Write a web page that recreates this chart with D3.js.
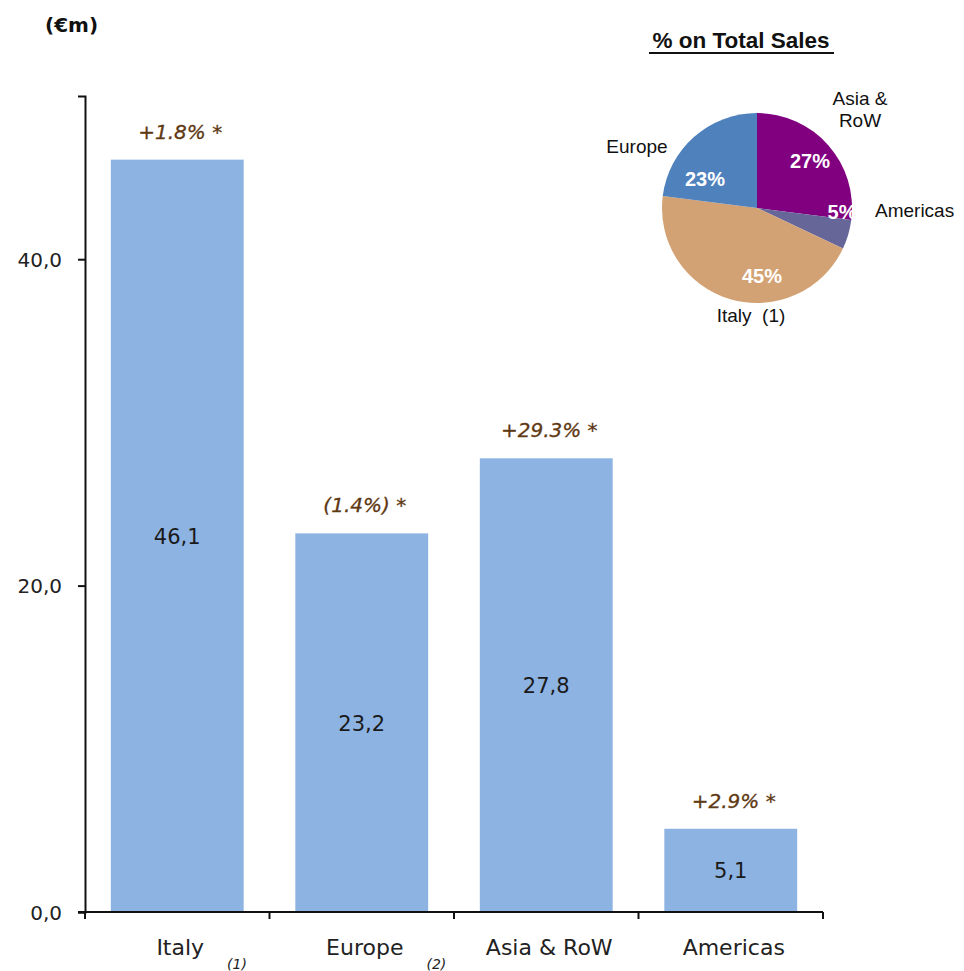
<!DOCTYPE html>
<html>
<head>
<meta charset="utf-8">
<script src="https://cdn.jsdelivr.net/npm/d3@7"></script>
<style>
  html, body { margin: 0; padding: 0; background: #fff; }
  svg { display: block; }
</style>
</head>
<body>
<svg id="chart" width="964" height="971"></svg>
<script>
// Sales by region (€m)
const regions = ["Italy", "Europe", "Asia & RoW", "Americas"];
const sales = [46.1, 23.2, 27.8, 5.1];
const growth = ["+1.8% *", "(1.4%) *", "+29.3% *", "+2.9% *"];
const footnotes = ["(1)", "(2)", "", ""];
const yTicks = [0, 20, 40];

// Share of total sales (pie), clockwise from 12 o'clock
const pieRegions = ["Asia & RoW", "Americas", "Italy", "Europe"];
const pieShares = [27, 5, 45, 23];
const pieNames = [["Asia &", "RoW"], ["Americas"], ["Italy  (1)"], ["Europe"]];
const pieColors = ["#800080", "#666699", "#d3a274", "#4f81bd"];

const svg = d3.select("#chart");
const itFmt = d3.formatLocale({ decimal: ",", thousands: ".", grouping: [3], currency: ["€", ""] });
const fmt1 = itFmt.format(".1f");

const x = d3.scaleBand().domain(regions).range([85, 823]).paddingInner(0.28).paddingOuter(0.14);
const y = d3.scaleLinear().domain([0, 50]).range([912, 96]);

const FONT = "'DejaVu Sans', sans-serif";
const PFONT = "'Liberation Sans', Arial, sans-serif";

// unit label
svg.append("text").attr("x", 45).attr("y", 32)
  .attr("font-family", FONT).attr("font-weight", "bold").attr("font-size", 20)
  .attr("fill", "#111").text("(€m)");

// bars
svg.append("g").selectAll("rect").data(sales).join("rect")
  .attr("x", (d, i) => x(regions[i]))
  .attr("width", x.bandwidth())
  .attr("y", d => y(d))
  .attr("height", d => y(0) - y(d))
  .attr("fill", "#8db3e2");

// value labels inside bars
svg.append("g").selectAll("text").data(sales).join("text")
  .attr("x", (d, i) => x(regions[i]) + x.bandwidth() / 2)
  .attr("y", d => (y(d) + y(0)) / 2 + 8)
  .attr("text-anchor", "middle")
  .attr("font-family", FONT).attr("font-size", 21).attr("fill", "#1a1a1a")
  .text(d => fmt1(d));

// growth annotations above bars
svg.append("g").selectAll("text").data(sales).join("text")
  .attr("x", (d, i) => x(regions[i]) + x.bandwidth() / 2 + 3)
  .attr("y", d => y(d) - 21)
  .attr("text-anchor", "middle")
  .attr("font-family", FONT).attr("font-style", "italic").attr("font-size", 20)
  .attr("fill", "#5e3812").attr("stroke", "#5e3812").attr("stroke-width", 0.3)
  .text((d, i) => growth[i]);

// y axis
const yAxis = d3.axisLeft(y).tickValues(yTicks).tickSize(7).tickFormat(fmt1);
const gy = svg.append("g").attr("transform", "translate(85,0)").call(yAxis);
gy.select(".domain").attr("stroke", "#111").attr("stroke-width", 2);
gy.selectAll(".tick line").attr("stroke", "#111").attr("stroke-width", 2);
gy.selectAll(".tick text").attr("font-family", FONT).attr("font-size", 20)
  .attr("fill", "#222").attr("x", -23).attr("dy", "0.36em");

// x axis with ticks at band boundaries
const gx = svg.append("g");
const step = x.step();
const boundaries = d3.range(regions.length + 1).map(i => x(regions[0]) - x.paddingInner() * step / 2 + i * step);
gx.append("line").attr("x1", 78).attr("x2", boundaries[boundaries.length - 1])
  .attr("y1", y(0)).attr("y2", y(0)).attr("stroke", "#111").attr("stroke-width", 2);
gx.selectAll(".bt").data(boundaries).join("line").attr("class", "bt")
  .attr("x1", d => d).attr("x2", d => d).attr("y1", y(0)).attr("y2", y(0) + 7)
  .attr("stroke", "#111").attr("stroke-width", 2);
const cats = gx.selectAll(".cat").data(regions).join("text").attr("class", "cat")
  .attr("x", d => x(d) + x.bandwidth() / 2 + 3)
  .attr("y", 955)
  .attr("text-anchor", "middle")
  .attr("font-family", FONT).attr("font-size", 22).attr("fill", "#222")
  .text(d => d);
// footnote markers set just after the category name
gx.selectAll(".fn").data(footnotes).join("text").attr("class", "fn")
  .attr("x", (d, i) => {
    const w = cats.nodes()[i].getComputedTextLength();
    return x(regions[i]) + x.bandwidth() / 2 + 3 + w / 2 + 23;
  })
  .attr("y", 969)
  .attr("font-family", FONT).attr("font-style", "italic").attr("font-size", 14).attr("fill", "#222")
  .text(d => d);

// pie: share of total sales
const cx = 757, cy = 208, r = 95;
svg.append("text").attr("x", 741).attr("y", 48).attr("text-anchor", "middle")
  .attr("font-family", PFONT).attr("font-weight", "bold").attr("font-size", 22.5)
  .attr("fill", "#111").text("% on Total Sales");
svg.append("line").attr("x1", 649).attr("x2", 834).attr("y1", 53).attr("y2", 53)
  .attr("stroke", "#111").attr("stroke-width", 2);

const pie = d3.pie().sort(null).value(d => d);
const arcs = pie(pieShares);
const arc = d3.arc().innerRadius(0).outerRadius(r);
const gp = svg.append("g").attr("transform", `translate(${cx},${cy})`);
gp.selectAll("path").data(arcs).join("path")
  .attr("d", arc).attr("fill", (d, i) => pieColors[i]);

// percentage labels inside slices
const inLabelPos = [[53, -40], [85, 11], [5, 75], [-52, -22]];
gp.selectAll(".pct").data(arcs).join("text").attr("class", "pct")
  .attr("x", (d, i) => inLabelPos[i][0]).attr("y", (d, i) => inLabelPos[i][1])
  .attr("text-anchor", "middle")
  .attr("font-family", PFONT).attr("font-weight", "bold").attr("font-size", 20)
  .attr("fill", "#fff")
  .text(d => d.data + "%");

// region names around the pie
const outPos = [[103, -103, "middle"], [118, 9, "start"], [-6, 114, "middle"], [-120, -55, "middle"]];
gp.selectAll(".nm").data(pieNames).join("text").attr("class", "nm")
  .attr("x", (d, i) => outPos[i][0]).attr("y", (d, i) => outPos[i][1])
  .attr("text-anchor", (d, i) => outPos[i][2])
  .attr("font-family", PFONT).attr("font-size", 19).attr("fill", "#111")
  .each(function (d, i) {
    d3.select(this).selectAll("tspan").data(d).join("tspan")
      .attr("x", outPos[i][0]).attr("dy", (t, j) => j === 0 ? 0 : 22)
      .attr("xml:space", "preserve")
      .text(t => t);
  });
</script>
</body>
</html>
